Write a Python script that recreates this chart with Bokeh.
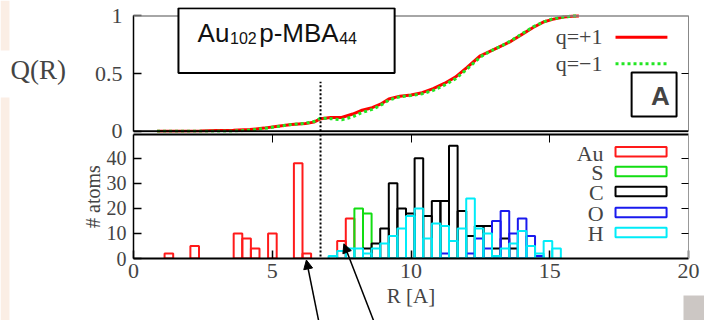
from bokeh.plotting import figure
from bokeh.layouts import column
from bokeh.models import (Range1d, LinearAxis, FixedTicker, Span, BoxAnnotation,
                          Label, Arrow, NormalHead)
from bokeh.embed import file_html
from bokeh.resources import INLINE

# ---------------- data ----------------
q_pos_r = [0.85, 1.6, 2.4, 3.0, 3.6, 4.2, 4.7, 5.2, 5.7, 6.2, 6.5, 6.75, 7.1, 7.5, 7.9, 8.2,
           8.6, 8.9, 9.2, 9.6, 10.0, 10.4, 10.8, 11.2, 11.6, 12.0, 12.5, 12.9, 13.3, 13.6,
           14.0, 14.4, 14.8, 15.1, 15.5, 15.8, 16.05]
q_pos_q = [0.0, 0.0, 0.003, 0.008, 0.01, 0.015, 0.028, 0.045, 0.06, 0.068, 0.08, 0.11, 0.12,
           0.12, 0.15, 0.18, 0.205, 0.235, 0.28, 0.305, 0.315, 0.335, 0.37, 0.415, 0.47,
           0.55, 0.655, 0.70, 0.745, 0.78, 0.84, 0.90, 0.95, 0.97, 0.99, 0.998, 1.0]
q_neg_r = q_pos_r
q_neg_q = [0.0, 0.0, 0.0, 0.0, 0.002, 0.01, 0.025, 0.042, 0.06, 0.07, 0.085, 0.115, 0.11,
           0.10, 0.125, 0.16, 0.19, 0.225, 0.27, 0.30, 0.31, 0.325, 0.355, 0.40, 0.455,
           0.535, 0.645, 0.70, 0.745, 0.785, 0.845, 0.905, 0.95, 0.975, 0.99, 0.998, 1.0]

bin_width = 0.31
au_r = [1.12, 2.05, 3.61, 3.92, 4.23, 4.85, 5.78, 6.09, 7.34, 7.65]
au_n = [2, 5, 10, 8, 4, 10, 38, 2, 7, 16]
s_r = [7.96, 8.27]
s_n = [20, 18]
c_r = [8.27, 8.58, 8.89, 9.20, 9.51, 9.82, 10.13, 10.44, 10.75, 11.06, 11.37, 11.68,
       11.99, 12.30, 12.61, 12.92, 13.23, 13.54]
c_n = [4, 6, 12, 30, 20, 18, 40, 17, 23, 23, 45, 19, 9, 13, 13, 4, 8, 4]
o_r = [11.06, 11.99, 12.30, 12.61, 12.92, 13.23, 13.54, 13.85, 14.16, 14.47]
o_n = [2, 2, 8, 4, 15, 19, 10, 16, 9, 1]
h_r = [7.03, 7.34, 7.65, 7.96, 8.27, 8.58, 8.89, 9.20, 9.51, 9.82, 10.13, 10.44, 10.75,
       11.06, 11.37, 11.68, 11.99, 12.30, 12.61, 12.92, 13.23, 13.54, 13.85, 14.16, 14.47,
       14.78, 15.09]
h_n = [1, 3, 4, 4, 2, 4, 6, 9, 12, 17, 20, 8, 14, 13, 7, 12, 24, 12, 10, 1, 4, 6, 11, 5,
       2, 7, 4]

cut_r = 6.74
cut_q = 0.43

x_ticks = [0, 5, 10, 15, 20]
q_ticks = [0, 0.5, 1]
n_ticks = [0, 10, 20, 30, 40]

elements = ["Au", "S", "C", "O", "H"]
colors = ["#ff1a1a", "#12dd12", "#000000", "#1a1aee", "#00ecf8"]
series_r = [au_r, s_r, c_r, o_r, h_r]
series_n = [au_n, s_n, c_n, o_n, h_n]

SERIF = "Liberation Serif"
SANS = "Liberation Sans"

# ---------------- top panel ----------------
top = figure(width=704, height=145, x_range=Range1d(0, 20), y_range=Range1d(-0.01, 1.073),
             x_axis_location=None, toolbar_location=None, output_backend="svg",
             min_border_left=133, min_border_right=16, min_border_top=7, min_border_bottom=13,
             outline_line_color=None, border_fill_color=None)
top.grid.visible = False
ya = top.yaxis[0]
ya.ticker = FixedTicker(ticks=q_ticks)
ya.major_label_overrides = {0: "0", 0.5: "0.5", 1: "1"}
ya.bounds = (0, 1)
ya.major_tick_in = 8
ya.major_tick_out = 0
ya.minor_tick_line_color = None
ya.axis_line_width = 1.5
ya.major_tick_line_width = 1.5
ya.major_label_standoff = 11
ya.major_label_text_font = SERIF
ya.major_label_text_font_size = "22px"
ya.axis_label = "Q(R)"
ya.axis_label_orientation = "horizontal"
ya.axis_label_text_font = SERIF
ya.axis_label_text_font_size = "27px"
ya.axis_label_text_font_style = "normal"
ya.axis_label_standoff = 26

ra = LinearAxis(ticker=FixedTicker(ticks=[0.5]), bounds=(0, 1), major_tick_in=7,
                major_tick_out=0, minor_tick_line_color=None, axis_line_color="#888888",
                major_label_overrides={0.5: ""}, major_label_standoff=0)
top.add_layout(ra, "right")
top.add_layout(Span(location=1, dimension="width", line_color="#888888", line_width=1.5))
top.add_layout(Span(location=0, dimension="width", line_color="black", line_width=2))

top.line(q_pos_r, q_pos_q, line_color="#ff0000", line_width=3)
top.line(q_neg_r, q_neg_q, line_color="#22e622", line_width=3, line_dash="3 3")
top.line([cut_r, cut_r], [0, cut_q], line_color="black", line_width=2, line_dash="2 2")

# title box
top.add_layout(BoxAnnotation(left=1.62, right=9.41, bottom=0.506, top=1.066,
                             fill_color="white", fill_alpha=1, line_color="black",
                             line_width=2, line_alpha=1))
for txt, xx, yy, fs in [("Au", 2.31, 0.848, "26px"), ("102", 3.48, 0.809, "16px"),
                        ("p-MBA", 4.53, 0.848, "26px"), ("44", 7.41, 0.809, "16px")]:
    top.add_layout(Label(x=xx, y=yy, text=txt, text_font=SANS, text_font_size=fs,
                         text_baseline="middle", text_align="left", text_color="#111111"))

# "A" box
top.add_layout(BoxAnnotation(left=17.95, right=19.57, bottom=0.129, top=0.51,
                             fill_color="white", fill_alpha=1, line_color="black",
                             line_width=2, line_alpha=1))
top.add_layout(Label(x=18.99, y=0.302, text="A", text_font=SANS, text_font_size="26px",
                     text_font_style="bold", text_align="center", text_baseline="middle"))

# legend of curves
top.add_layout(Label(x=16.9, y=0.819, text="q=+1", text_font=SERIF, text_font_size="22px",
                     text_align="right", text_baseline="middle"))
top.add_layout(Label(x=16.9, y=0.59, text="q=\u22121", text_font=SERIF, text_font_size="22px",
                     text_align="right", text_baseline="middle"))
top.line([17.37, 19.24], [0.816, 0.816], line_color="#ff0000", line_width=3)
top.line([17.37, 19.24], [0.585, 0.585], line_color="#22e622", line_width=3, line_dash="3 3")

# ---------------- bottom panel ----------------
bot = figure(width=704, height=188, x_range=top.x_range, y_range=Range1d(0, 49.5),
             toolbar_location=None, output_backend="svg",
             min_border_left=133, min_border_right=16, min_border_top=2, min_border_bottom=62,
             outline_line_color=None, border_fill_color=None, margin=(-13, 0, 0, 0))
bot.grid.visible = False
xa = bot.xaxis[0]
xa.ticker = FixedTicker(ticks=x_ticks)
xa.major_tick_in = 8
xa.major_tick_out = 0
xa.minor_tick_line_color = None
xa.axis_line_width = 2
xa.major_tick_line_width = 1.5
xa.major_label_standoff = 5
xa.major_label_text_font = SERIF
xa.major_label_text_font_size = "22px"
xa.axis_label = "R [A]"
xa.axis_label_text_font = SERIF
xa.axis_label_text_font_size = "21px"
xa.axis_label_text_font_style = "normal"
xa.axis_label_standoff = 3

yb = bot.yaxis[0]
yb.ticker = FixedTicker(ticks=n_ticks)
yb.major_tick_in = 8
yb.major_tick_out = 0
yb.minor_tick_line_color = None
yb.axis_line_width = 1.5
yb.major_tick_line_width = 1.5
yb.major_label_standoff = 7
yb.major_label_text_font = SERIF
yb.major_label_text_font_size = "20px"
yb.axis_label = "# atoms"
yb.axis_label_text_font = SERIF
yb.axis_label_text_font_size = "20px"
yb.axis_label_text_font_style = "normal"
yb.axis_label_standoff = 0

rb = LinearAxis(ticker=FixedTicker(ticks=n_ticks[1:]), major_tick_in=7, major_tick_out=0,
                minor_tick_line_color=None, axis_line_color="#999999",
                major_label_overrides={t: "" for t in n_ticks[1:]}, major_label_standoff=0)
bot.add_layout(rb, "right")
ab = LinearAxis(ticker=FixedTicker(ticks=x_ticks[1:-1]), major_tick_in=8, major_tick_out=0,
                minor_tick_line_color=None, axis_line_color="black", axis_line_width=2,
                major_label_overrides={t: "" for t in x_ticks[1:-1]}, major_label_standoff=0)
bot.add_layout(ab, "above")

for r, n, col in zip(series_r, series_n, colors):
    bot.quad(left=[v for v in r], right=[v + bin_width for v in r], bottom=0, top=n,
             fill_color=None, line_color=col, line_width=2)

bot.add_layout(Span(location=cut_r, dimension="height", line_color="black",
                    line_width=2, line_dash="2 2"))

# legend of elements
leg_y = [42.6, 34.7, 26.7, 18.4, 10.4]
for name, col, yy in zip(elements, colors, leg_y):
    bot.add_layout(Label(x=16.94, y=yy - 0.5, text=name, text_font=SERIF, text_font_size="22px",
                         text_align="right", text_baseline="middle"))
    bot.quad(left=[17.37], right=[19.21], bottom=[yy - 1.9], top=[yy + 1.9],
             fill_color=None, line_color=col, line_width=2)

# ---------------- transparent overlay (arrows, page decorations) ----------------
ov = figure(width=704, height=320, x_range=Range1d(-4.793, 20.577),
            y_range=Range1d(-24.75, 103.0), toolbar_location=None, output_backend="svg",
            x_axis_location=None, y_axis_location=None,
            min_border_left=0, min_border_right=0, min_border_top=0, min_border_bottom=0,
            outline_line_color=None, border_fill_color=None, background_fill_color=None,
            margin=(-320, 0, 0, 0))
ov.grid.visible = False
for xs, ys, xe, ye in [(6.67, -24.75, 6.23, -0.6), (8.65, -24.75, 7.58, 5.87)]:
    ov.add_layout(Arrow(end=NormalHead(size=9, fill_color="black", line_color="black"),
                        x_start=xs, y_start=ys, x_end=xe, y_end=ye,
                        line_color="black", line_width=1.5))
ov.add_layout(BoxAnnotation(left=19.82, right=20.577, bottom=-24.75, top=-14.77,
                            fill_color="#ccc7c4", fill_alpha=1, line_color=None))
ov.add_layout(BoxAnnotation(left=-4.793, right=-4.47, bottom=83.0, top=103.0,
                            fill_color="#fbeee5", fill_alpha=1, line_color=None))
ov.add_layout(BoxAnnotation(left=-4.793, right=-4.47, bottom=-24.75, top=64.3,
                            fill_color="#fbeee5", fill_alpha=1, line_color=None))

layout = column(top, bot, spacing=0)
open("out.html", "w").write(file_html([layout, ov], INLINE))
